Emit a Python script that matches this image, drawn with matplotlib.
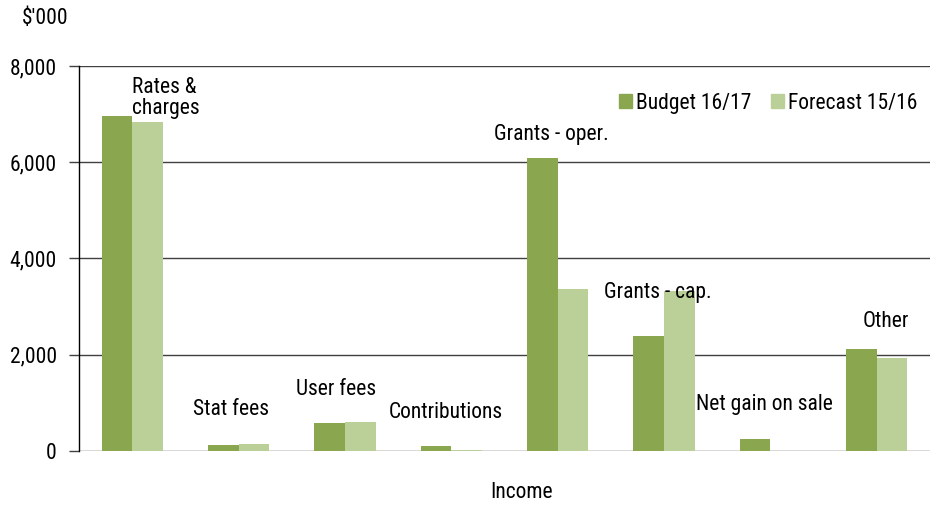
import matplotlib
matplotlib.use("Agg")
import matplotlib.pyplot as plt
from matplotlib.patches import Patch
import numpy as np

plt.rcParams['font.family'] = ['Roboto Condensed', 'Liberation Sans', 'DejaVu Sans']

categories = ["Rates &\ncharges", "Stat fees", "User fees", "Contributions",
              "Grants - oper.", "Grants - cap.", "Net gain on sale", "Other"]
budget_16_17 = [6960, 112, 568, 104, 6080, 2380, 236, 2116]
forecast_15_16 = [6835, 133, 602, 15, 3370, 3320, 0, 1938]
series_names = ["Budget 16/17", "Forecast 15/16"]
y_ticks = [0, 2000, 4000, 6000, 8000]

# where each category caption sits (category index, value)
label_pos = [(0.0, 7330), (0.926, 865), (1.92, 1280), (2.949, 803),
             (3.936, 6570), (4.942, 3293), (5.943, 969), (7.089, 2691)]

c_budget = "#8AA64F"
c_forecast = "#BBD098"
fs = 15.5

fig = plt.figure(figsize=(9.30, 5.17), dpi=100)
ax = fig.add_axes([79 / 930, (517 - 450.7) / 517, 851 / 930, (450.7 - 66) / 517])

x = np.arange(len(categories))
w = 0.288
ax.bar(x - w / 2, budget_16_17, width=w, color=c_budget, zorder=3)
ax.bar(x + w / 2, forecast_15_16, width=w, color=c_forecast, zorder=3)

ax.set_xlim(-0.5, len(categories) - 0.5)
ax.set_ylim(0, 8000)
ax.set_yticks(y_ticks)
ax.set_yticklabels([f"{v:,}" for v in y_ticks], fontsize=fs)
ax.set_xticks([])
ax.tick_params(axis='y', direction='out', length=7, width=1, color='#404040', pad=9)

for s in ['top', 'right', 'bottom']:
    ax.spines[s].set_visible(False)
ax.spines['left'].set_color('black')
ax.spines['left'].set_linewidth(1)

ax.yaxis.grid(True, color='#404040', linewidth=1)
ax.set_axisbelow(True)

for name, (px, py) in zip(categories, label_pos):
    if "\n" in name:
        ax.text(px, py, name, ha='left', va='center', fontsize=fs,
                linespacing=1.0, zorder=4)
    else:
        ax.text(px, py, name, ha='center', va='center', fontsize=fs, zorder=4)

fig.text(522 / 930, 1 - 493 / 517, "Income", ha='center', va='center', fontsize=fs)
fig.text(22 / 930, 1 - 19 / 517, "$'000", ha='left', va='center', fontsize=fs)

handles = [Patch(color=c_budget), Patch(color=c_forecast)]
fig.legend(handles, series_names, loc='center left',
           bbox_to_anchor=(619 / 930, 1 - 103 / 517), ncol=2, frameon=False,
           fontsize=fs, handlelength=0.6, handleheight=0.6,
           handletextpad=0.2, columnspacing=0.9, borderpad=0, borderaxespad=0)

fig.savefig("out.png", dpi=100)
